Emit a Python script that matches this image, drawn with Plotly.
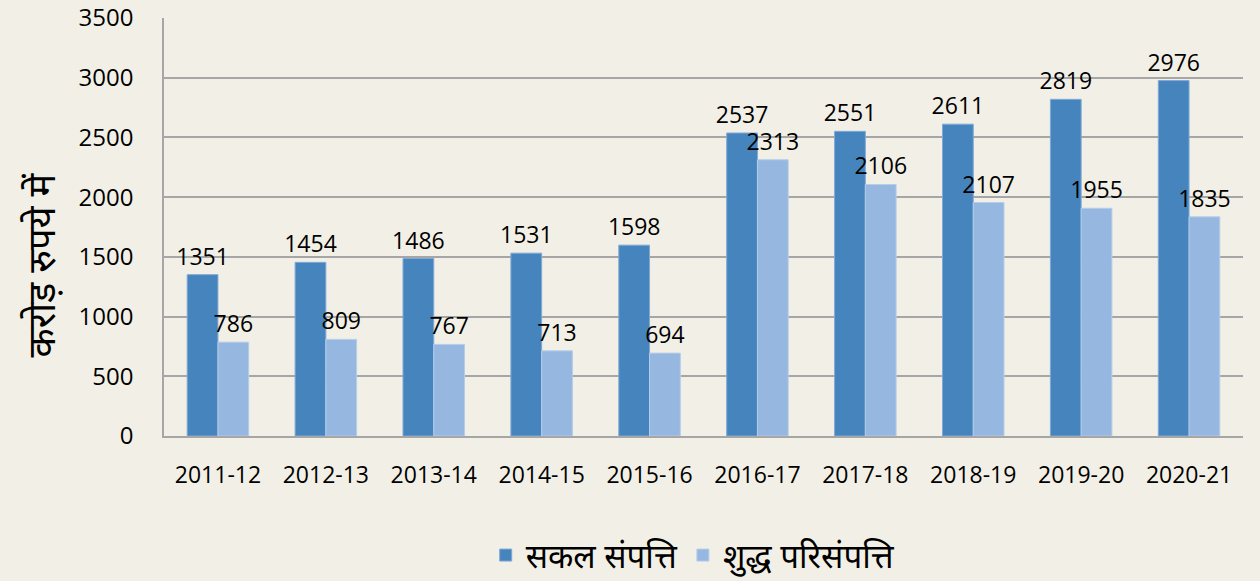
import plotly.graph_objects as go

years = ["2011-12", "2012-13", "2013-14", "2014-15", "2015-16",
         "2016-17", "2017-18", "2018-19", "2019-20", "2020-21"]
gross_assets = [1351, 1454, 1486, 1531, 1598, 2537, 2551, 2611, 2819, 2976]
gross_labels = ["1351", "1454", "1486", "1531", "1598", "2537", "2551", "2611", "2819", "2976"]
net_assets = [786, 809, 767, 713, 694, 2313, 2106, 1955, 1907, 1835]
net_labels = ["786", "809", "767", "713", "694", "2313", "2106", "2107", "1955", "1835"]
y_ticks = [0, 500, 1000, 1500, 2000, 2500, 3000, 3500]
y_title = "करोड़ रुपये में"

FONT = "Open Sans, Noto Sans, Liberation Sans, sans-serif"
BG = "#F2F0E6"

fig = go.Figure()
fig.add_trace(go.Bar(
    x=years, y=gross_assets, name="सकल संपत्ति",
    marker=dict(color="#4684BD", line=dict(color="#7FA9D6", width=1)),
    text=gross_labels, textposition="outside", cliponaxis=False,
    constraintext="none",
    textfont=dict(size=23, color="#000000", family=FONT),
))
fig.add_trace(go.Bar(
    x=years, y=net_assets, name="शुद्ध परिसंपत्ति",
    marker=dict(color="#95B7E0", line=dict(color="#B5CDEA", width=1)),
    text=net_labels, textposition="outside", cliponaxis=False,
    constraintext="none",
    textfont=dict(size=23, color="#000000", family=FONT),
))

fig.update_layout(
    width=1260, height=581,
    paper_bgcolor=BG, plot_bgcolor=BG,
    barmode="group", bargap=0.43, bargroupgap=0,
    margin=dict(l=164, r=17, t=18, b=145, autoexpand=False),
    font=dict(family=FONT, color="#000000"),
    showlegend=True,
    legend=dict(orientation="h", x=0.49, xanchor="center", y=-0.285, yanchor="middle",
                font=dict(size=33, color="#000000"), itemwidth=30,
                traceorder="normal"),
    uniformtext=dict(mode=False),
    annotations=[dict(
        text=y_title, textangle=-90, xref="paper", yref="paper",
        x=-0.115, y=0.41, xanchor="center", yanchor="middle", showarrow=False,
        font=dict(size=38, color="#000000", family=FONT),
    )],
)
fig.update_yaxes(
    range=[0, 3500], tickvals=y_ticks, ticks="", showgrid=True,
    gridcolor="#A6A6A6", gridwidth=1.5, zeroline=False,
    showline=True, linecolor="#A6A6A6", linewidth=1.5,
    tickfont=dict(size=24, color="#000000"), ticklabelstandoff=24,
    ticklabeloverflow="allow",
)
fig.update_xaxes(
    type="category",
    showline=True, linecolor="#A6A6A6", linewidth=1.5, ticks="",
    tickfont=dict(size=23, color="#000000"), ticklabelstandoff=18,
)

fig.write_html(
    "out.html",
    config={"displayModeBar": False},
    post_script="document.body.style.margin='0';document.body.style.background='#F2F0E6';",
)
